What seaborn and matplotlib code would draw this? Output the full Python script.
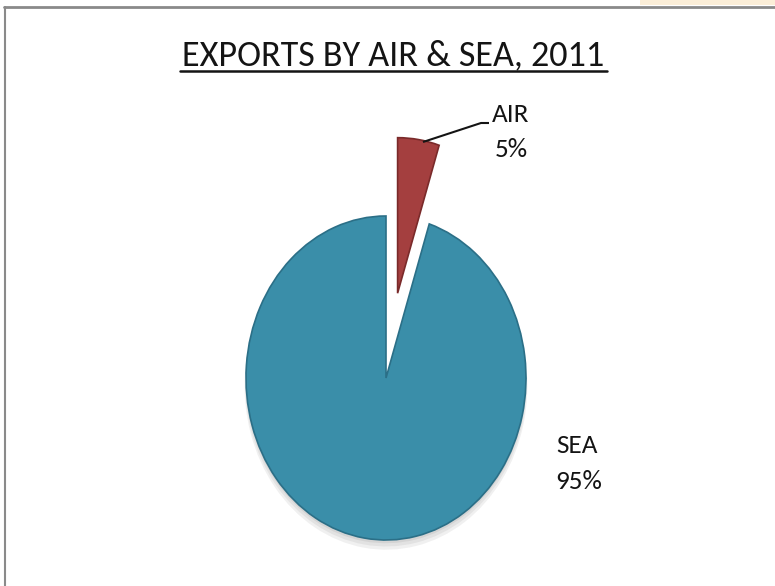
import matplotlib
matplotlib.use("Agg")
import matplotlib.pyplot as plt
import seaborn as sns
from matplotlib.lines import Line2D
from matplotlib.patches import Rectangle, Wedge

categories = ["AIR", "SEA"]
shares = [5, 95]
pct_labels = ["5%", "95%"]
title = "EXPORTS BY AIR & SEA, 2011"

sns.set_theme(style="white")
plt.rcParams["font.family"] = ["Carlito", "DejaVu Sans"]

colors = ["#a43f3f", "#3a8ea9"]
edge_colors = ["#7a2a2a", "#2b6f87"]

W, H = 775, 586
fig = plt.figure(figsize=(W / 100, H / 100), dpi=100)
fig.patch.set_facecolor("white")

# axes covering the whole figure; pie drawn as a 140x162 px ellipse centred at (386, 378 from top)
cx, cy, rx, ry = 386, H - 378, 140, 162
ax = fig.add_axes([0, 0, 1, 1])

wedges, _ = ax.pie(
    shares,
    colors=colors,
    startangle=90,
    counterclock=False,
    explode=[0.53, 0.0],
    radius=1.0,
    center=(0, 0),
    frame=True,
    wedgeprops=dict(linewidth=1.2),
)
for w, ec in zip(wedges, edge_colors):
    w.set_edgecolor(ec)
    w.set_zorder(2)
wedges[0].set_radius(0.96)

# soft shadow under the SEA slice
sea = wedges[1]
for k, a in enumerate([0.07, 0.07, 0.08]):
    off = 0.02 + 0.015 * (2 - k)
    ax.add_patch(Wedge((sea.center[0], sea.center[1] - off), sea.r + 0.005 * (2 - k),
                       sea.theta1, sea.theta2, facecolor="#333333", edgecolor="none",
                       alpha=a, zorder=1))

ax.set_xlim((0 - cx) / rx, (W - cx) / rx)
ax.set_ylim((0 - cy) / ry, (H - cy) / ry)
ax.set_aspect("auto")
ax.axis("off")


def px(x, y):
    return ((x - cx) / rx, ((H - y) - cy) / ry)


# labels
lab_fs = 19.5
tc = "#141414"
ax.text(*px(511, 122), categories[0], ha="center", va="baseline", fontsize=lab_fs, color=tc)
ax.text(*px(511.5, 157), pct_labels[0], ha="center", va="baseline", fontsize=lab_fs, color=tc)
ax.text(*px(577.5, 453), categories[1], ha="center", va="baseline", fontsize=lab_fs, color=tc)
ax.text(*px(578.5, 489), pct_labels[1], ha="center", va="baseline", fontsize=lab_fs, color=tc)
lx, ly = zip(px(423, 142), px(481, 123), px(489, 123))
ax.plot(lx, ly, color="#141414", lw=1.5, zorder=3, solid_capstyle="butt")

# title with underline
fig.text(393 / W, 1 - 65 / H, title, ha="center", va="baseline", fontsize=26, color=tc)
fig.add_artist(Line2D([180 / W, 607 / W], [1 - 71 / H, 1 - 71 / H], color=tc, lw=1.8))

# chart border
fig.add_artist(Line2D([4.5 / W, 4.5 / W], [0, 1 - 7 / H], color="#8a8a8a", lw=1.5))
fig.add_artist(Line2D([4 / W, 1], [1 - 7 / H, 1 - 7 / H], color="#8a8a8a", lw=2))
fig.add_artist(Rectangle((640 / W, 1 - 5 / H), 135 / W, 5 / H, transform=fig.transFigure,
                         facecolor="#fbeed8", edgecolor="none"))

fig.savefig("out.png", dpi=100)
